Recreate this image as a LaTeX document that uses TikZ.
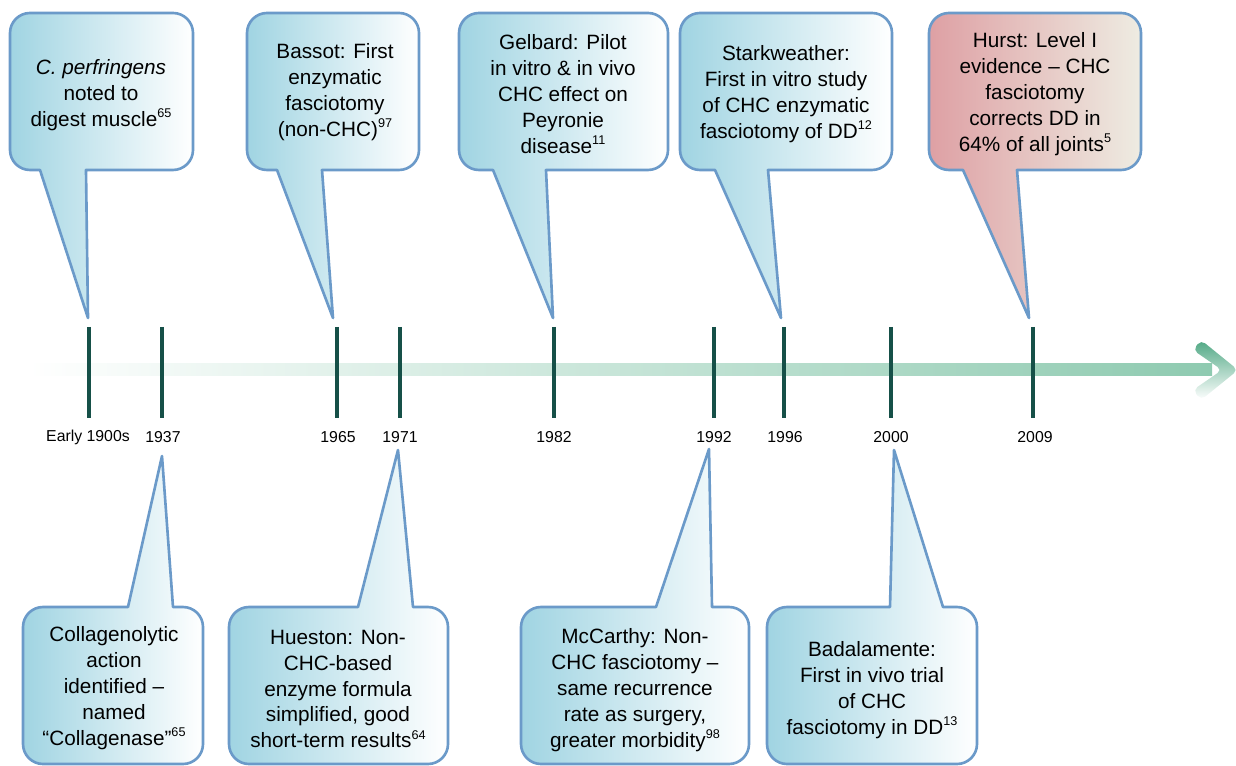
\documentclass[tikz,border=0pt]{standalone}
\usepackage{fontspec}
\setmainfont{Liberation Sans}
\definecolor{cline}{RGB}{107,154,201}
\definecolor{cblue}{RGB}{160,212,226}
\definecolor{cpink}{RGB}{222,160,164}
\definecolor{ccream}{RGB}{238,236,226}
\definecolor{tickc}{RGB}{22,80,72}
\definecolor{agreen}{RGB}{142,202,176}
\definecolor{adark}{RGB}{80,168,132}
\newcommand\sref[1]{\raisebox{0.75ex}{\fontsize{7.2}{8}\selectfont #1}}
\tikzset{
  callout/.style={draw=cline, line width=1.5pt, line join=round, left color=cblue, right color=white},
  hurst/.style={left color=cpink, right color=ccream},
  ctext/.style={align=center, font=\fontsize{11.8}{14.7}\selectfont, inner sep=0pt},
  year/.style={font=\fontsize{9}{11}\selectfont, inner sep=0pt},
  tickline/.style={draw=tickc, line width=2pt}
}
% top callout: style, L, T, R, B, a, b, px, py
\newcommand\topcallout[9]{%
  \path[callout,#1] ({#2+20},#3) -- ({#4-20},#3) .. controls ({#4-9},#3) and (#4,{#3+9}) .. (#4,{#3+20})
   -- (#4,{#5-20}) .. controls (#4,{#5-9}) and ({#4-9},#5) .. ({#4-20},#5)
   -- (#7,#5) -- (#8,#9) -- (#6,#5)
   -- ({#2+20},#5) .. controls ({#2+9},#5) and (#2,{#5-9}) .. (#2,{#5-20})
   -- (#2,{#3+20}) .. controls (#2,{#3+9}) and ({#2+9},#3) .. ({#2+20},#3) -- cycle;}
\newcommand\botcallout[9]{%
  \path[callout,#1] ({#2+20},#3) -- (#6,#3) -- (#8,#9) -- (#7,#3)
   -- ({#4-20},#3) .. controls ({#4-9},#3) and (#4,{#3+9}) .. (#4,{#3+20})
   -- (#4,{#5-20}) .. controls (#4,{#5-9}) and ({#4-9},#5) .. ({#4-20},#5)
   -- ({#2+20},#5) .. controls ({#2+9},#5) and (#2,{#5-9}) .. (#2,{#5-20})
   -- (#2,{#3+20}) .. controls (#2,{#3+9}) and ({#2+9},#3) .. ({#2+20},#3) -- cycle;}
\begin{document}
\begin{tikzpicture}[x=0.02cm,y=-0.02cm]
\useasboundingbox (0,0) rectangle (1236,766);
% timeline arrow
\shade[left color=white, right color=agreen] (28,364) rectangle (1212,376);
\shade[top color=adark, middle color=agreen, bottom color=white, rounded corners=3pt]
  (1193,350) -- (1201,340) -- (1238,370) -- (1201,400) -- (1193,390) -- (1222,370) -- cycle;
% ticks
\foreach \x in {89,162,337,400,554,714,784,891,1033}
  \draw[tickline] (\x,327) -- (\x,418);
% years
\node[year] (y1) at (88,437) {Early 1900s};
\node[year] (y2) at (163,437) {1937};
\node[year] (y3) at (338,437) {1965};
\node[year] (y4) at (400,437) {1971};
\node[year] (y5) at (554,437) {1982};
\node[year] (y6) at (714,437) {1992};
\node[year] (y7) at (785,437) {1996};
\node[year] (y8) at (891,437) {2000};
\node[year] (y9) at (1035,437) {2009};
% top callouts
\topcallout{}{10}{13}{193}{170}{40}{86}{88}{318}
\topcallout{}{247}{13}{419}{170}{277}{322}{333}{318}
\topcallout{}{459}{13}{668}{170}{493}{546}{553}{318}
\topcallout{}{680}{13}{892}{170}{715}{768}{781}{318}
\topcallout{hurst}{929}{13}{1141}{170}{963}{1017}{1029}{318}
\node[ctext] (c1) at (101,95) {\textit{C. perfringens}\\noted to\\digest muscle\sref{65}};
\node[ctext] (c2) at (335,92) {Bassot: First\\enzymatic\\fasciotomy\\(non-CHC)\sref{97}};
\node[ctext] (c3) at (563,94) {Gelbard: Pilot\\in vitro \& in vivo\\CHC effect on\\Peyronie\\disease\sref{11}};
\node[ctext] (c4) at (786,94) {Starkweather:\\First in vitro study\\of CHC enzymatic\\fasciotomy of DD\sref{12}};
\node[ctext] (c5) at (1035,94) {Hurst: Level I\\evidence – CHC\\fasciotomy\\corrects DD in\\64\% of all joints\sref{5}};
% bottom callouts
\botcallout{}{23}{607}{203}{764}{128}{173}{162}{456}
\botcallout{}{229}{607}{448}{764}{358}{413}{398}{450}
\botcallout{}{521}{607}{749}{764}{656}{712}{709}{449}
\botcallout{}{767}{607}{977}{764}{890}{943}{894}{450}
\node[ctext] (d1) at (114,688) {Collagenolytic\\action\\identified –\\named\\“Collagenase”\sref{65}};
\node[ctext] (d2) at (338,689) {Hueston: Non-\\CHC-based\\enzyme formula\\simplified, good\\short-term results\sref{64}};
\node[ctext] (d3) at (635,690) {McCarthy: Non-\\CHC fasciotomy –\\same recurrence\\rate as surgery,\\greater morbidity\sref{98}};
\node[ctext] (d4) at (872,690) {Badalamente:\\First in vivo trial\\of CHC\\fasciotomy in DD\sref{13}};
\end{tikzpicture}
\end{document}
